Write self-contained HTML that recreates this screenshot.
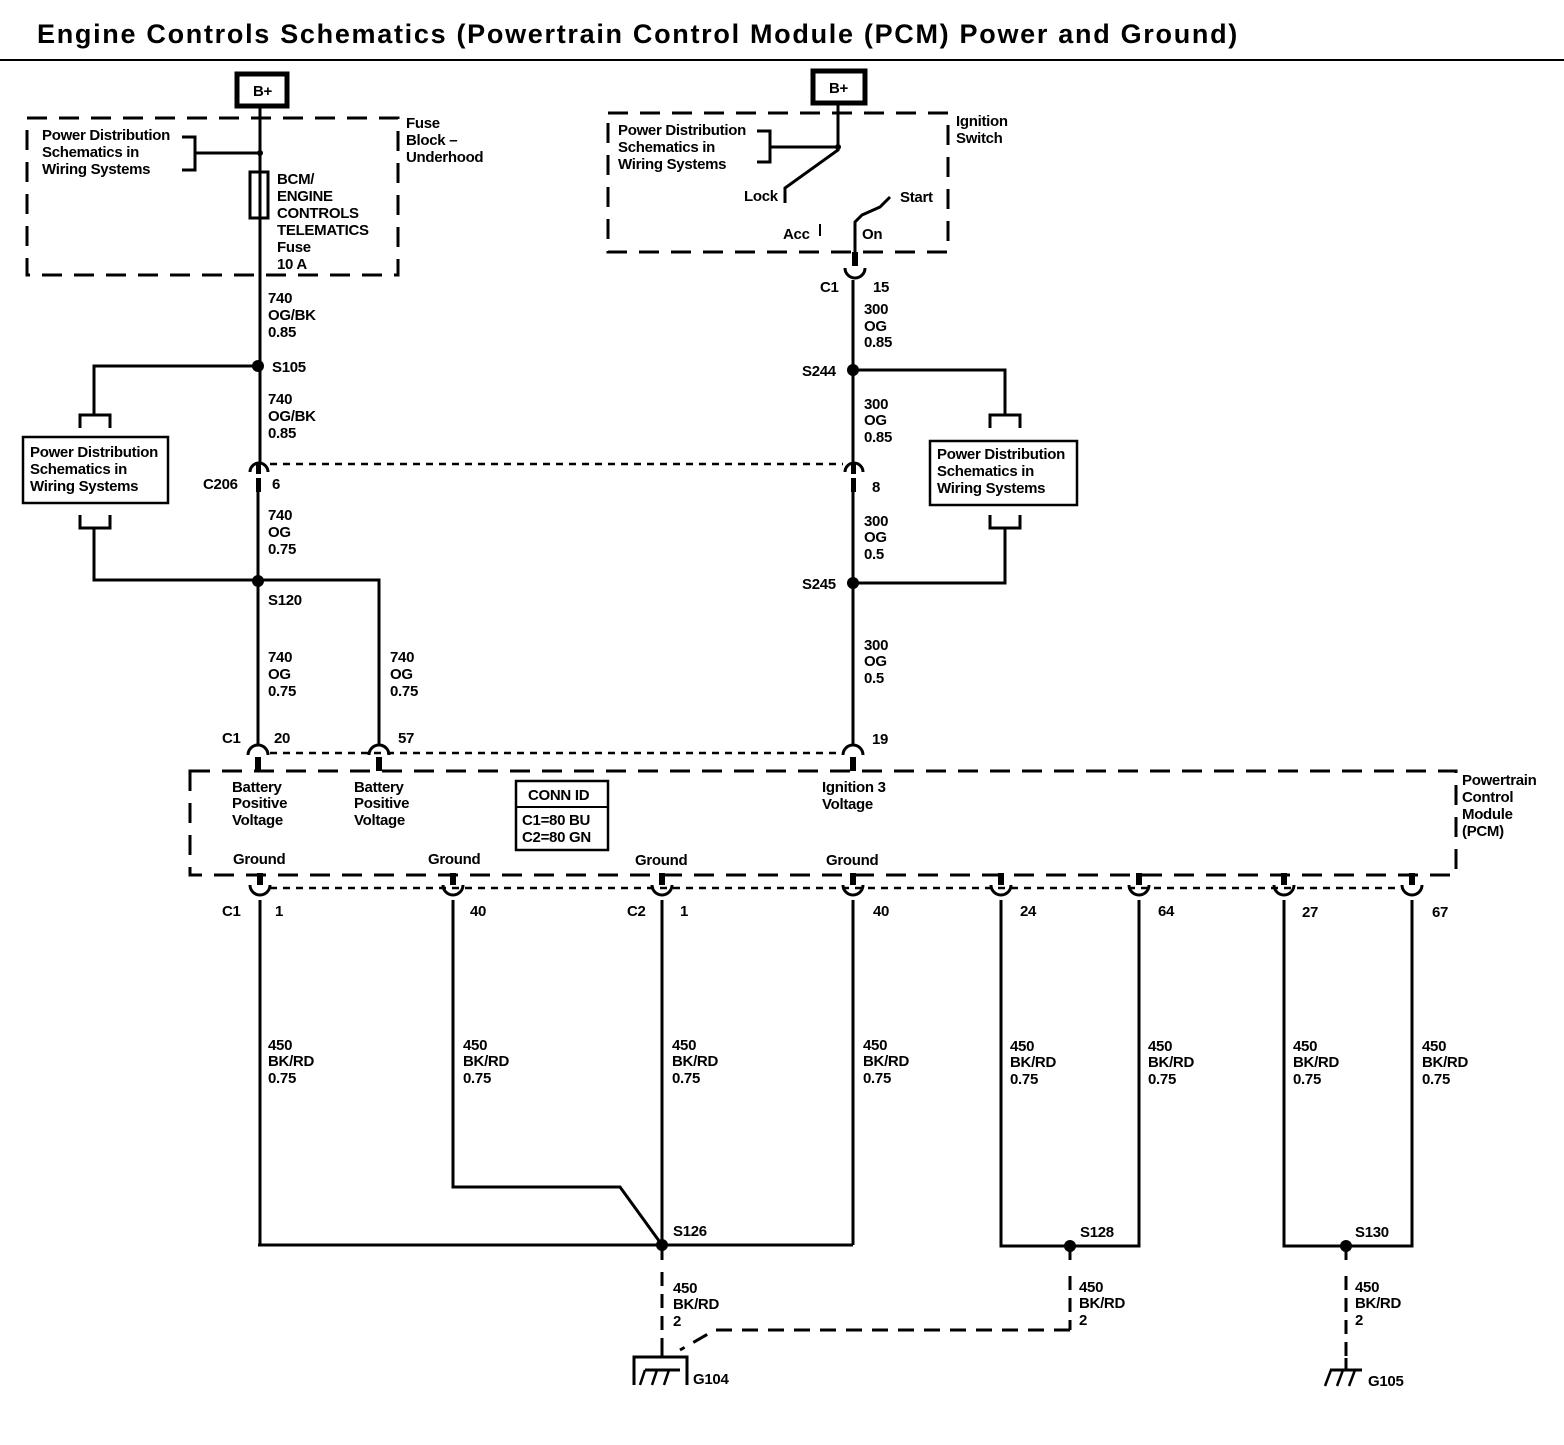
<!DOCTYPE html>
<html><head><meta charset="utf-8"><style>
body{margin:0;background:#fff}
svg text{font-family:"Liberation Sans",Arial,sans-serif;font-size:15px;font-weight:bold;fill:#000;letter-spacing:-0.3px}
</style></head><body>
<svg width="1564" height="1440" viewBox="0 0 1564 1440" xmlns="http://www.w3.org/2000/svg">
<rect width="1564" height="1440" fill="#fff"/>
<text x="37" y="43" style="font-size:27px;letter-spacing:1.7px">Engine Controls Schematics (Powertrain Control Module (PCM) Power and Ground)</text>
<line x1="0" y1="60" x2="1564" y2="60" stroke="#000" stroke-width="2"/>

<g fill="none" stroke="#000" stroke-width="3">
<rect x="237" y="74" width="50" height="32" stroke-width="5"/>
<rect x="27" y="118" width="371" height="157" stroke-dasharray="20,12"/>
<line x1="260" y1="106" x2="260" y2="462"/>
<polyline points="182,137 195,137 195,170 182,170"/>
<line x1="195" y1="153" x2="260" y2="153"/>
<rect x="250" y="172" width="18" height="46"/>
<polyline points="258,366 94,366 94,415"/>
<polyline points="80,428 80,415 110,415 110,428"/>
<rect x="23" y="437" width="145" height="66" stroke-width="2.5"/>
<polyline points="80,515 80,528 110,528 110,515"/>
<polyline points="94,528 94,580 258,580 379,580 379,745"/>
<line x1="258" y1="478" x2="258" y2="745"/>
<rect x="813" y="71" width="52" height="32" stroke-width="5"/>
<rect x="608" y="113" width="340" height="139" stroke-dasharray="20,12"/>
<polyline points="838,103 838,150 785,188 785,203"/>
<polyline points="757,131 770,131 770,162 757,162"/>
<line x1="770" y1="147" x2="838" y2="147"/>
<line x1="820" y1="224" x2="820" y2="236" stroke-width="2"/>
<polyline points="855,265 855,222 862,215 880,207 890,197"/>
<line x1="853" y1="280" x2="853" y2="462"/>
<polyline points="853,370 1005,370 1005,415"/>
<polyline points="990,428 990,415 1020,415 1020,428"/>
<rect x="930" y="441" width="147" height="64" stroke-width="2.5"/>
<polyline points="990,515 990,528 1020,528 1020,515"/>
<polyline points="1005,528 1005,583 853,583"/>
<line x1="853" y1="478" x2="853" y2="745"/>
<rect x="190" y="771" width="1266" height="104" stroke-dasharray="20,12"/>
<rect x="516" y="781" width="92" height="69" stroke-width="2.5"/>
<line x1="516" y1="807" x2="608" y2="807" stroke-width="2"/>
<line x1="270" y1="464" x2="843" y2="464" stroke-dasharray="7,6" stroke-width="2.5"/>
<line x1="270" y1="753" x2="843" y2="753" stroke-dasharray="7,6" stroke-width="2.5"/>
<line x1="270" y1="888" x2="1402" y2="888" stroke-dasharray="7,6" stroke-width="2.5"/>
<line x1="260" y1="900" x2="260" y2="1245"/>
<polyline points="453,900 453,1187 620,1187 662,1245"/>
<line x1="662" y1="900" x2="662" y2="1245"/>
<line x1="853" y1="900" x2="853" y2="1245"/>
<line x1="258" y1="1245" x2="853" y2="1245"/>
<polyline points="1001,900 1001,1246 1139,1246 1139,900"/>
<polyline points="1284,900 1284,1246 1412,1246 1412,900"/>
<line x1="662" y1="1245" x2="662" y2="1260"/>
<line x1="1070" y1="1246" x2="1070" y2="1260"/>
<line x1="1346" y1="1246" x2="1346" y2="1260"/>
<line x1="662" y1="1272" x2="662" y2="1360" stroke-dasharray="14,8"/>
<line x1="1070" y1="1276" x2="1070" y2="1330" stroke-dasharray="14,8"/>
<line x1="1346" y1="1276" x2="1346" y2="1358" stroke-dasharray="14,8"/>
<polyline points="1070,1330 715,1330 680,1350" stroke-dasharray="16,10"/>
<polyline points="634,1385 634,1357 687,1357 687,1385"/>
<line x1="662" y1="1347" x2="662" y2="1357"/>
<line x1="640" y1="1385" x2="645" y2="1370" stroke-width="2.5"/>
<line x1="652" y1="1385" x2="657" y2="1370" stroke-width="2.5"/>
<line x1="664" y1="1385" x2="669" y2="1370" stroke-width="2.5"/>
<line x1="645" y1="1370" x2="680" y2="1370"/>
<line x1="1346" y1="1358" x2="1346" y2="1370"/>
<line x1="1330" y1="1370" x2="1362" y2="1370"/>
<line x1="1325" y1="1386" x2="1331" y2="1370" stroke-width="2.5"/>
<line x1="1337" y1="1386" x2="1343" y2="1370" stroke-width="2.5"/>
<line x1="1349" y1="1386" x2="1355" y2="1370" stroke-width="2.5"/>
</g>

<g fill="#000">
<circle cx="260" cy="153" r="3"/><circle cx="838" cy="147" r="3"/>
<circle cx="258" cy="366" r="6"/><circle cx="258" cy="581" r="6"/>
<circle cx="853" cy="370" r="6"/><circle cx="853" cy="583" r="6"/>
<circle cx="662" cy="1245" r="6"/><circle cx="1070" cy="1246" r="6"/><circle cx="1346" cy="1246" r="6"/>
</g>

<g fill="none" stroke="#000" stroke-width="3">
<path d="M250,472 A9,9 0 0 1 268,472"/><path d="M845,472 A9,9 0 0 1 863,472"/>
<path d="M248,755 A10,10 0 0 1 268,755"/><path d="M369,755 A10,10 0 0 1 389,755"/><path d="M843,755 A10,10 0 0 1 863,755"/>
<path d="M845,268 A10,10 0 0 0 865,268"/>
</g>
<g fill="#000">
<rect x="256" y="462" width="5" height="12"/><rect x="256" y="478" width="5" height="14"/>
<rect x="851" y="462" width="5" height="12"/><rect x="851" y="478" width="5" height="14"/>
<rect x="255" y="757" width="6" height="14"/><rect x="376" y="757" width="6" height="14"/><rect x="850" y="757" width="6" height="14"/>
<rect x="852" y="252" width="6" height="14"/>
</g>
<g fill="none" stroke="#000" stroke-width="3">
<path d="M250,885 A10,10 0 0 0 270,885"/><path d="M443,885 A10,10 0 0 0 463,885"/>
<path d="M652,885 A10,10 0 0 0 672,885"/><path d="M843,885 A10,10 0 0 0 863,885"/>
<path d="M991,885 A10,10 0 0 0 1011,885"/><path d="M1129,885 A10,10 0 0 0 1149,885"/>
<path d="M1274,885 A10,10 0 0 0 1294,885"/><path d="M1402,885 A10,10 0 0 0 1422,885"/>
</g>
<g fill="#000">
<rect x="257" y="873" width="6" height="12"/><rect x="450" y="873" width="6" height="12"/>
<rect x="659" y="873" width="6" height="12"/><rect x="850" y="873" width="6" height="12"/>
<rect x="998" y="873" width="6" height="12"/><rect x="1136" y="873" width="6" height="12"/>
<rect x="1281" y="873" width="6" height="12"/><rect x="1409" y="873" width="6" height="12"/>
</g>

<text x="253" y="96">B+</text><text x="829" y="93">B+</text>
<text x="42" y="140">Power Distribution</text><text x="42" y="157">Schematics in</text><text x="42" y="174">Wiring Systems</text>
<text x="277" y="184">BCM/</text><text x="277" y="201">ENGINE</text><text x="277" y="218">CONTROLS</text><text x="277" y="235">TELEMATICS</text><text x="277" y="252">Fuse</text><text x="277" y="269">10 A</text>
<text x="406" y="128">Fuse</text><text x="406" y="145">Block –</text><text x="406" y="162">Underhood</text>
<text x="618" y="135">Power Distribution</text><text x="618" y="152">Schematics in</text><text x="618" y="169">Wiring Systems</text>
<text x="744" y="201">Lock</text><text x="900" y="202">Start</text><text x="783" y="239">Acc</text><text x="862" y="239">On</text>
<text x="956" y="126">Ignition</text><text x="956" y="143">Switch</text>
<text x="820" y="292">C1</text><text x="873" y="292">15</text>
<text x="268" y="303">740</text><text x="268" y="320">OG/BK</text><text x="268" y="337">0.85</text>
<text x="864" y="314">300</text><text x="864" y="331">OG</text><text x="864" y="347">0.85</text>
<text x="272" y="372">S105</text><text x="802" y="376">S244</text>
<text x="268" y="404">740</text><text x="268" y="421">OG/BK</text><text x="268" y="438">0.85</text>
<text x="864" y="409">300</text><text x="864" y="425">OG</text><text x="864" y="442">0.85</text>
<text x="30" y="457">Power Distribution</text><text x="30" y="474">Schematics in</text><text x="30" y="491">Wiring Systems</text>
<text x="937" y="459">Power Distribution</text><text x="937" y="476">Schematics in</text><text x="937" y="493">Wiring Systems</text>
<text x="203" y="489">C206</text><text x="272" y="489">6</text><text x="872" y="492">8</text>
<text x="268" y="520">740</text><text x="268" y="537">OG</text><text x="268" y="554">0.75</text>
<text x="864" y="526">300</text><text x="864" y="542">OG</text><text x="864" y="559">0.5</text>
<text x="802" y="589">S245</text><text x="268" y="605">S120</text>
<text x="268" y="662">740</text><text x="268" y="679">OG</text><text x="268" y="696">0.75</text>
<text x="390" y="662">740</text><text x="390" y="679">OG</text><text x="390" y="696">0.75</text>
<text x="864" y="650">300</text><text x="864" y="666">OG</text><text x="864" y="683">0.5</text>
<text x="222" y="743">C1</text><text x="274" y="743">20</text><text x="398" y="743">57</text><text x="872" y="744">19</text>
<text x="232" y="792">Battery</text><text x="232" y="808">Positive</text><text x="232" y="825">Voltage</text>
<text x="354" y="792">Battery</text><text x="354" y="808">Positive</text><text x="354" y="825">Voltage</text>
<text x="822" y="792">Ignition 3</text><text x="822" y="809">Voltage</text>
<text x="528" y="800">CONN ID</text><text x="522" y="825">C1=80 BU</text><text x="522" y="842">C2=80 GN</text>
<text x="1462" y="785">Powertrain</text><text x="1462" y="802">Control</text><text x="1462" y="819">Module</text><text x="1462" y="836">(PCM)</text>
<text x="233" y="864">Ground</text><text x="428" y="864">Ground</text><text x="635" y="865">Ground</text><text x="826" y="865">Ground</text>
<text x="222" y="916">C1</text><text x="275" y="916">1</text><text x="470" y="916">40</text>
<text x="627" y="916">C2</text><text x="680" y="916">1</text><text x="873" y="916">40</text>
<text x="1020" y="916">24</text><text x="1158" y="916">64</text><text x="1302" y="917">27</text><text x="1432" y="917">67</text>
<g>
<text x="268" y="1050">450</text><text x="268" y="1066">BK/RD</text><text x="268" y="1083">0.75</text>
<text x="463" y="1050">450</text><text x="463" y="1066">BK/RD</text><text x="463" y="1083">0.75</text>
<text x="672" y="1050">450</text><text x="672" y="1066">BK/RD</text><text x="672" y="1083">0.75</text>
<text x="863" y="1050">450</text><text x="863" y="1066">BK/RD</text><text x="863" y="1083">0.75</text>
<text x="1010" y="1051">450</text><text x="1010" y="1067">BK/RD</text><text x="1010" y="1084">0.75</text>
<text x="1148" y="1051">450</text><text x="1148" y="1067">BK/RD</text><text x="1148" y="1084">0.75</text>
<text x="1293" y="1051">450</text><text x="1293" y="1067">BK/RD</text><text x="1293" y="1084">0.75</text>
<text x="1422" y="1051">450</text><text x="1422" y="1067">BK/RD</text><text x="1422" y="1084">0.75</text>
</g>
<text x="673" y="1236">S126</text><text x="1080" y="1237">S128</text><text x="1355" y="1237">S130</text>
<text x="673" y="1293">450</text><text x="673" y="1309">BK/RD</text><text x="673" y="1326">2</text>
<text x="1079" y="1292">450</text><text x="1079" y="1308">BK/RD</text><text x="1079" y="1325">2</text>
<text x="1355" y="1292">450</text><text x="1355" y="1308">BK/RD</text><text x="1355" y="1325">2</text>
<text x="693" y="1384">G104</text><text x="1368" y="1386">G105</text>
</svg>
</body></html>
